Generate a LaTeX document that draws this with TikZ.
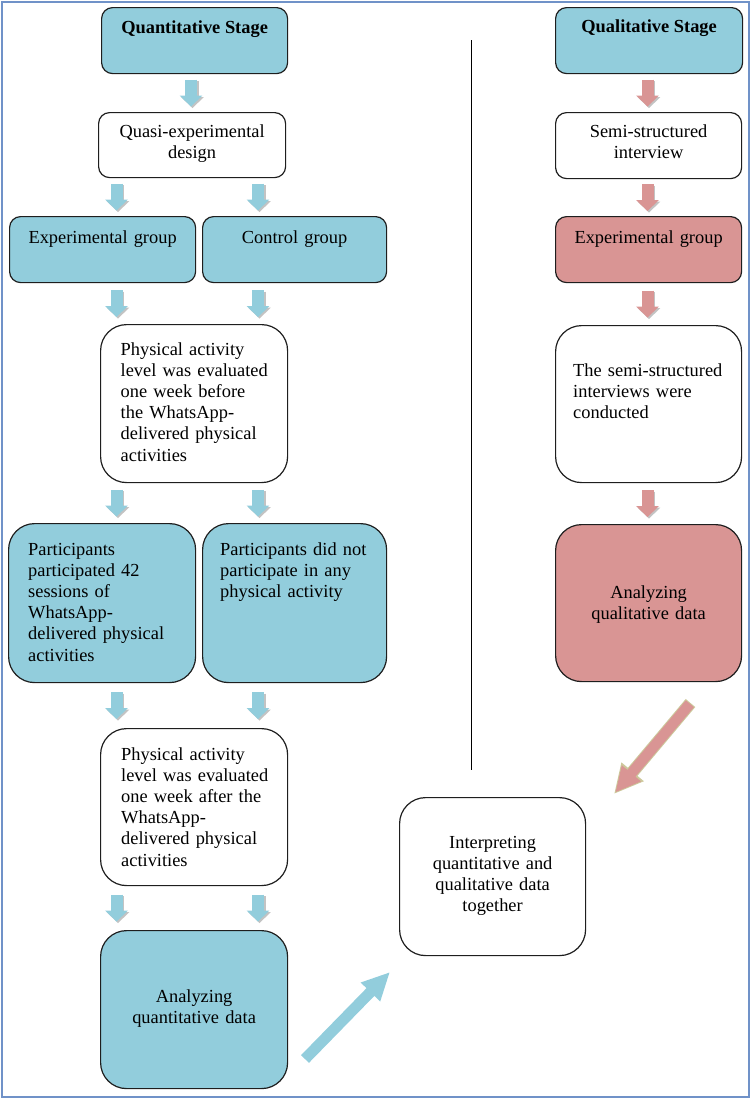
\documentclass[tikz,border=0pt]{standalone}
\usepackage{fontspec}
\setmainfont{Liberation Serif}
\usetikzlibrary{arrows.meta,calc}
\definecolor{qblue}{RGB}{146,205,220}
\definecolor{qred}{RGB}{217,149,148}
\definecolor{frameblue}{RGB}{112,146,200}
\definecolor{arrowshadow}{RGB}{195,195,195}
\definecolor{rededge}{RGB}{205,200,155}
\definecolor{boxline}{RGB}{30,30,30}
\tikzset{
  bx/.style={draw=boxline, line width=1.2pt, inner sep=0pt, anchor=north west},
  sm/.style={bx, rounded corners=11pt},
  tl/.style={bx, rounded corners=26pt},
  txt/.style={inner sep=0pt, font=\fontsize{18.4}{21.2}\selectfont},
  btxt/.style={inner sep=0pt, anchor=base, font=\fontsize{18.4}{21.2}\selectfont\bfseries},
  ltxt/.style={txt, text width=175pt, align=left, anchor=base west},
  ctxt/.style={txt, text width=180pt, align=center, anchor=base},
  varrow/.style={line width=12pt, -{Triangle[width=22pt,length=11pt]}},
}
\newcommand\varr[4]{%
  \coordinate (vm) at ($(#2.south -| #4)!0.5!(#3.north -| #4)$);
  \draw[varrow, arrowshadow] ($(vm)+(1.5,-12)$) -- ($(vm)+(1.5,15)$);
  \draw[varrow, #1] ($(vm)+(0,-13.5)$) -- ($(vm)+(0,13.5)$);
}
\begin{document}
\begin{tikzpicture}[x=1pt,y=-1pt]
\useasboundingbox (0,0) rectangle (750,1098);
\draw[frameblue, line width=2pt] (1.5,1.5) rectangle (748.5,1096.5);

% column coordinates
\coordinate (cQ) at (191,0);
\coordinate (cA) at (116.5,0);
\coordinate (cB) at (258,0);
\coordinate (cR) at (647.5,0);

% left column
\node[sm, fill=qblue, minimum width=186pt, minimum height=66pt] (qn) at (101,7) {};
\node[btxt] (qnt) at ($(qn.north)+(0,26)$) {Quantitative Stage};

\node[sm, fill=white, minimum width=187pt, minimum height=65pt] (qe) at (98,112) {};
\node[ctxt] (qet) at ($(qe.north)+(0,25)$) {Quasi-experimental\\design};

\node[sm, fill=qblue, minimum width=186pt, minimum height=66pt] (eg) at (9,216) {};
\node[ctxt] (egt) at ($(eg.north)+(0,27)$) {Experimental group};

\node[sm, fill=qblue, minimum width=184pt, minimum height=66pt] (cg) at (202,216) {};
\node[ctxt] (cgt) at ($(cg.north)+(0,27)$) {Control group};

\node[tl, fill=white, minimum width=187pt, minimum height=158pt] (pa1) at (100,324) {};
\node[ltxt] (pa1t) at ($(pa1.north west)+(20.5,31)$) {Physical activity\\level was evaluated\\one week before\\the WhatsApp-\\delivered physical\\activities};

\node[tl, fill=qblue, minimum width=187pt, minimum height=159pt] (pp) at (8,523) {};
\node[ltxt] (ppt) at ($(pp.north west)+(20,32)$) {Participants\\participated 42\\sessions of\\WhatsApp-\\delivered physical\\activities};

\node[tl, fill=qblue, minimum width=184pt, minimum height=159pt] (pn) at (202,523) {};
\node[ltxt] (pnt) at ($(pn.north west)+(18,32)$) {Participants did not\\participate in any\\physical activity};

\node[tl, fill=white, minimum width=187pt, minimum height=157pt] (pa2) at (100,728) {};
\node[ltxt] (pa2t) at ($(pa2.north west)+(21,32)$) {Physical activity\\level was evaluated\\one week after the\\WhatsApp-\\delivered physical\\activities};

\node[tl, fill=qblue, minimum width=187pt, minimum height=158pt] (aq) at (100,930) {};
\node[ctxt] (aqt) at ($(aq.north)+(0,72)$) {Analyzing\\quantitative data};

% right column
\node[sm, fill=qblue, minimum width=187pt, minimum height=66pt] (ql) at (555,7) {};
\node[btxt] (qlt) at ($(ql.north)+(0,25)$) {Qualitative Stage};

\node[sm, fill=white, minimum width=186pt, minimum height=66pt] (ss) at (555,112) {};
\node[ctxt] (sst) at ($(ss.north)+(0,25)$) {Semi-structured\\interview};

\node[sm, fill=qred, minimum width=186pt, minimum height=66pt] (eg2) at (555,216) {};
\node[ctxt] (eg2t) at ($(eg2.north)+(0,27)$) {Experimental group};

\node[tl, fill=white, minimum width=186pt, minimum height=157pt] (sc) at (555,325) {};
\node[ltxt] (sct) at ($(sc.north west)+(18,51)$) {The semi-structured\\interviews were\\conducted};

\node[tl, fill=qred, minimum width=186pt, minimum height=157pt] (al) at (555,524) {};
\node[ctxt] (alt) at ($(al.north)+(0,74)$) {Analyzing\\qualitative data};

% merge box
\node[tl, fill=white, minimum width=186pt, minimum height=158pt] (ip) at (399,797) {};
\node[ctxt] (ipt) at ($(ip.north)+(0,51)$) {Interpreting\\quantitative and\\qualitative data\\together};

% separator
\coordinate (s1) at (471,40);
\coordinate (s2) at (471,770);
\draw[black, line width=1pt] (s1) -- (s2);

% vertical block arrows
\varr{qblue}{qn}{qe}{cQ}
\varr{qblue}{qe}{eg}{cA}
\varr{qblue}{qe}{cg}{cB}
\varr{qblue}{eg}{pa1}{cA}
\varr{qblue}{cg}{pa1}{cB}
\varr{qblue}{pa1}{pp}{cA}
\varr{qblue}{pa1}{pn}{cB}
\varr{qblue}{pp}{pa2}{cA}
\varr{qblue}{pn}{pa2}{cB}
\varr{qblue}{pa2}{aq}{cA}
\varr{qblue}{pa2}{aq}{cB}

\varr{qred}{ql}{ss}{cR}
\varr{qred}{ss}{eg2}{cR}
\varr{qred}{eg2}{sc}{cR}
\varr{qred}{sc}{al}{cR}

% diagonal arrows into the merge box
\coordinate (d1) at (305,1059);
\coordinate (d2) at (390,972);
\draw[line width=11pt, qblue, -{Triangle[width=25pt,length=28pt]}] (d1) -- (d2);

\coordinate (d3) at (690.5,703);
\coordinate (d4) at (614,794);
\draw[line width=12.5pt, rededge, -{Triangle[width=27pt,length=29pt]}] (d3) -- (d4);
\draw[line width=10.5pt, qred, -{Triangle[width=23pt,length=25pt]}] ($(d3)!1pt!(d4)$) -- ($(d4)!2pt!(d3)$);
\end{tikzpicture}
\end{document}
